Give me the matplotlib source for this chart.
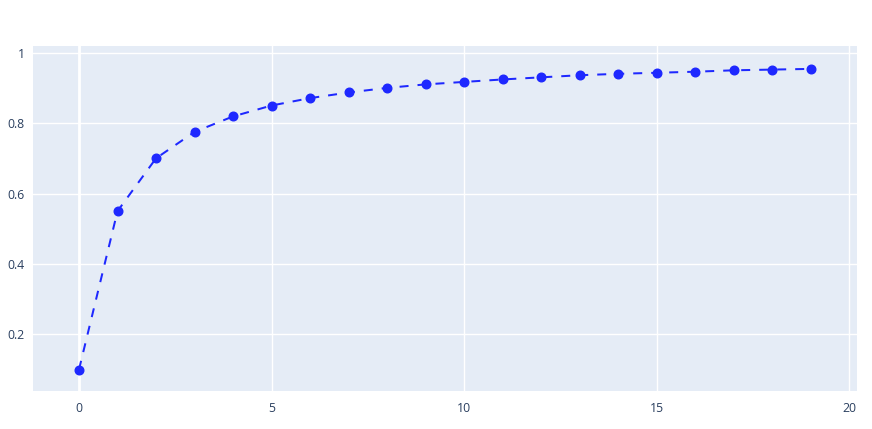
import numpy as np
import matplotlib.pyplot as plt

plt.rcParams['font.family'] = ['Open Sans', 'DejaVu Sans']

# data
steps = list(range(20))
values = [0.100, 0.550, 0.700, 0.775, 0.819, 0.850, 0.871, 0.887, 0.900, 0.910,
          0.917, 0.924, 0.930, 0.936, 0.940, 0.943, 0.946, 0.950, 0.952, 0.954]
x_ticks = [0, 5, 10, 15, 20]
y_ticks = [0.2, 0.4, 0.6, 0.8, 1.0]
y_labels = ['0.2', '0.4', '0.6', '0.8', '1']

fig = plt.figure(figsize=(8.72, 4.29), dpi=100)
ax = fig.add_axes([33.3 / 872, 1 - 390.7 / 429, (856.7 - 33.3) / 872, (390.7 - 46) / 429])
ax.set_facecolor('#E5ECF6')

blue = '#1e28ff'
# 9px dash / 9px gap like the plotly 'dash' style
ax.plot(steps, values, color=blue, linewidth=1.45, linestyle=(0, (4.47, 4.47)),
        marker='o', markersize=6.2, markerfacecolor=blue, markeredgecolor=blue, zorder=3)

ax.set_xlim(-1.186, 20.19)
ax.set_ylim(0.04, 1.019)
ax.set_xticks(x_ticks)
ax.set_yticks(y_ticks)
ax.set_yticklabels(y_labels)

ax.grid(True, color='white', linewidth=1)
ax.set_axisbelow(True)
# zero line for x
ax.axvline(0, color='white', linewidth=2, zorder=1)
for s in ax.spines.values():
    s.set_visible(False)
ax.tick_params(length=0, labelsize=8.8, labelcolor='#2a3f5f')
ax.tick_params(axis='x', pad=8)
ax.tick_params(axis='y', pad=6)

fig.savefig('out.png', dpi=100)
